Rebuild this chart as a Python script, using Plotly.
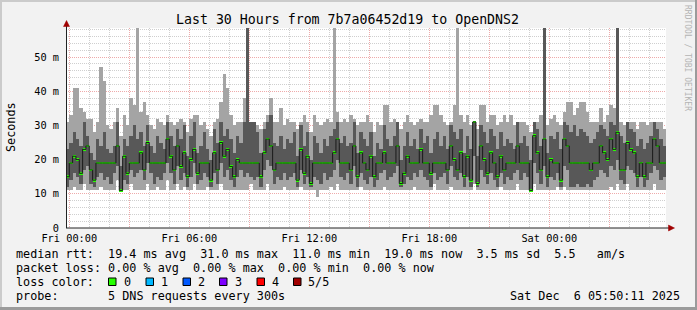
import pandas as pd
import plotly.graph_objects as go

# ---------------- data (ms), 10-minute bins starting Thu 23:50 ----------------
START = "2025-12-04 23:50:00"
median = [15,19,21,20,16,23,24,17,14,19, 19,19,19,19,19,24,11,21,16,19,
          19,19,22,17,25,19,19,19,19,19, 26,21,17,24,18,22,15,20,23,16,
          19,19,19,14,22,17,25,21,23,18, 15,20,19,19,19,19,19,19,15,22,
          26,24,17,19,19,19,19,19,19,14, 23,16,21,13,19,19,19,19,19,19,
          22,26,19,19,19,17,24,15,22,19, 17,21,15,19,19,22,19,19,19,24,
          13,16,21,19,19,19,23,19,19,16, 19,19,19,19,17,24,20,17,22,15,
          21,14,31,13,24,20,16,22,19,15, 21,17,19,19,19,24,19,19,19,11,
          27,22,17,26,15,20,19,19,14,26, 24,19,19,19,19,19,19,17,19,19,
          24,22,20,26,23,28,17,17,25,23, 22,15,19,15,19,19,26,24,19,19]
ping_min = [11,11,12,11,11,13,11,11,11,11, 12,11,11,11,11,14,11,11,11,13,
            11,11,11,11,13,11,11,12,11,11, 14,11,11,13,11,12,11,11,13,11,
            11,11,12,11,11,11,13,11,11,11, 11,11,11,11,11,13,11,11,11,11,
            13,11,11,11,11,12,11,11,11,11, 12,11,11,11,11,9,11,11,11,12,
            11,13,11,11,11,11,11,11,12,11, 11,11,11,11,11,12,11,11,11,11,
            11,11,11,11,12,11,11,11,11,11, 13,11,11,11,11,12,11,11,11,11,
            11,11,13,11,11,11,11,11,11,11, 12,11,11,11,11,13,11,11,11,11,
            13,11,11,11,11,11,11,12,11,12, 11,11,11,11,11,11,11,11,11,11,
            11,11,11,12,11,13,11,11,13,11, 11,11,11,11,11,11,13,11,11,11]
ping_low = [12,14,16,15,13,17,18,13,12,15, 16,14,15,13,16,18,11,14,13,17,
            15,16,17,14,19,16,13,15,14,16, 19,16,13,18,14,16,12,15,19,13,
            14,16,15,12,16,13,19,15,17,14, 12,15,17,15,16,15,14,15,12,17,
            20,18,13,15,14,16,14,15,16,12, 17,13,15,12,15,14,13,16,14,15,
            17,20,15,14,16,13,18,12,16,14, 13,15,12,14,16,17,14,15,16,18,
            12,13,15,14,16,15,17,15,14,12, 16,14,15,16,13,18,15,14,16,12,
            15,12,21,12,17,15,13,16,14,12, 16,13,15,14,16,17,14,16,15,11,
            19,16,13,18,12,15,14,16,12,18, 17,12,12,13,12,12,13,12,14,15,
            17,16,15,18,17,20,14,13,18,17, 16,12,15,12,14,16,18,17,14,15]
ping_high = [23,25,28,26,24,31,27,22,20,26, 24,28,23,22,24,31,18,26,24,27,
             30,26,28,24,30,24,22,27,25,23, 31,27,24,29,26,30,21,27,31,22,
             24,28,23,20,29,25,31,27,29,26, 22,27,25,31,60,31,31,28,22,29,
             31,33,25,24,27,23,26,25,28,21, 30,24,28,20,27,25,22,26,24,27,
             29,31,25,27,24,25,31,22,28,26, 24,28,21,25,23,30,26,24,27,31,
             20,24,28,24,26,23,29,25,27,22, 26,28,24,27,23,30,28,26,29,22,
             27,23,31,21,30,28,25,29,27,23, 28,24,26,25,23,31,25,27,24,20,
             31,29,24,60,22,27,26,28,23,31, 30,28,30,27,29,28,27,25,26,28,
             30,29,27,31,30,60,27,25,31,29, 28,24,26,23,25,27,31,29,26,24]
ping_max = [31,33,41,41,35,34,32,32,28,31, 47,43,30,29,31,35,27,33,30,38,
            36,60,34,37,33,30,29,32,31,30, 33,31,30,31,32,31,28,32,33,33,
            30,31,29,27,31,32,37,45,41,33, 30,31,31,38,60,31,31,30,29,31,
            33,38,31,31,35,30,32,31,31,29, 31,33,31,28,33,31,30,31,32,31,
            60,34,31,32,31,33,32,30,31,31, 33,31,28,31,30,36,36,31,32,31,
            29,31,33,31,30,31,32,31,31,33, 36,36,33,31,30,31,36,60,33,31,
            33,30,31,29,36,36,31,33,33,30, 31,33,31,33,30,31,31,31,30,28,
            31,31,33,60,30,32,33,31,30,34, 37,37,33,35,37,37,34,31,31,31,
            35,31,33,36,35,60,31,30,31,31, 31,29,31,31,30,31,31,31,31,29]

y_ticks = [0, 10, 20, 30, 40, 50]
y_labels = ["0", "10 m", "20 m", "30 m", "40 m", "50 m"]
legend_lines = [
    "median rtt:  19.4 ms avg  31.0 ms max  11.0 ms min  19.0 ms now  3.5 ms sd  5.5   am/s",
    "packet loss: 0.00 % avg  0.00 % max  0.00 % min  0.00 % now",
    "loss color:",
    "probe:       5 DNS requests every 300s",
]
loss_labels = ["0", "1", "2", "3", "4", "5/5"]
loss_colors = ["#26ff00", "#00b8ff", "#0059ff", "#7e00ff", "#ff0000", "#a10000"]

# ---------------- geometry helpers (pixels -> paper) ----------------
L, R, T, B = 66, 31, 28, 82
W_IMG, H_IMG = 697, 310
PW, PH = W_IMG - L - R, H_IMG - T - B
def px(x):
    return (x - L) / PW
def py(y):
    return (T + PH - y) / PH

MONO = "DejaVu Sans Mono"
NB = lambda s: s.replace(" ", "\u00a0")

n = len(median)
times = pd.date_range(START, periods=n, freq="10min")
centers = times + pd.Timedelta(minutes=5)
BW = 10 * 60 * 1000

fig = go.Figure()
fig.add_bar(x=centers, base=ping_min, y=[h - l for h, l in zip(ping_max, ping_min)],
            width=BW, marker=dict(color="#a4a4a4", line_width=0), hoverinfo="skip")
fig.add_bar(x=centers, base=ping_low, y=[h - l for h, l in zip(ping_high, ping_low)],
            width=BW, marker=dict(color="#585858", line_width=0), hoverinfo="skip")
edges = list(times) + [times[-1] + pd.Timedelta(minutes=10)]
fig.add_scatter(x=edges, y=median + [median[-1]], mode="lines",
                line=dict(color="#1a1a1a", width=1, shape="hv"), hoverinfo="skip")
fig.add_bar(x=centers, base=[m - 0.4 for m in median], y=[0.8] * n,
            width=BW, marker=dict(color="#26ff00", line_width=0), hoverinfo="skip")

major_x = pd.date_range("2025-12-05 00:00", "2025-12-06 03:00", freq="3h")
major_txt = [t.strftime("%a %H:%M") if i % 2 == 0 else "" for i, t in enumerate(major_x)]
minor_x = [t for t in pd.date_range("2025-12-05 00:00", "2025-12-06 05:00", freq="1h") if t.hour % 3]

GRID = "#cfcfcf"
MGRID = "#eeaaaa"
DASH = "1px,1px"

fig.update_layout(
    width=W_IMG, height=H_IMG, margin=dict(l=L, r=R, t=T, b=B),
    paper_bgcolor="#f2f2f2", plot_bgcolor="#ffffff",
    showlegend=False, barmode="overlay", bargap=0,
    xaxis=dict(type="date", range=["2025-12-04 23:50:11", "2025-12-06 05:50:11"],
               tickmode="array", tickvals=major_x, ticktext=major_txt,
               showgrid=True, gridcolor=MGRID, griddash=DASH, gridwidth=1,
               zeroline=False, showline=False, ticks="", ticklabelstandoff=3,
               tickfont=dict(family=MONO, size=10.3, color="#000"),
               minor=dict(tickmode="array", tickvals=minor_x, showgrid=True,
                          gridcolor=GRID, griddash=DASH, gridwidth=1, ticks="")),
    yaxis=dict(range=[0, 58.5], tickmode="array", tickvals=y_ticks, ticktext=y_labels,
               showgrid=True, gridcolor=MGRID, griddash=DASH, gridwidth=1,
               zeroline=False, showline=False, ticks="", ticklabelstandoff=6,
               tickfont=dict(family=MONO, size=10.3, color="#000"),
               minor=dict(tickmode="array", tickvals=[v for v in range(2, 59, 2) if v % 10],
                          showgrid=True, gridcolor=GRID, griddash=DASH, gridwidth=1, ticks="")),
)

shapes = []
# axes
shapes.append(dict(type="line", xref="paper", yref="paper", x0=px(66.5), x1=px(66.5),
                   y0=py(228), y1=py(25), line=dict(color="#222", width=1)))
shapes.append(dict(type="line", xref="paper", yref="paper", x0=px(66), x1=px(670),
                   y0=py(228), y1=py(228), line=dict(color="#222", width=1)))
# arrows
def path(pts):
    return "M " + " L ".join(f"{px(a)},{py(b)}" for a, b in pts) + " Z"
shapes.append(dict(type="path", xref="paper", yref="paper",
                   path=path([(66.5, 20.5), (63.5, 26.5), (69.5, 26.5)]),
                   fillcolor="#a00000", line=dict(color="#a00000", width=0.5)))
shapes.append(dict(type="path", xref="paper", yref="paper",
                   path=path([(674.5, 228), (668.5, 225), (668.5, 231)]),
                   fillcolor="#a00000", line=dict(color="#a00000", width=0.5)))
# frame
def rect(x0, y0, x1, y1, color, line=None):
    d = dict(type="rect", xref="paper", yref="paper", x0=px(x0), x1=px(x1),
             y0=py(y1), y1=py(y0), fillcolor=color, line=dict(width=0))
    if line:
        d["line"] = dict(color=line, width=1)
    return d
shapes.append(rect(0, 0, 697, 2, "#cbcbcb"))
shapes.append(rect(0, 0, 2, 310, "#cbcbcb"))
shapes.append(rect(0, 307, 697, 310, "#9b9b9b"))
shapes.append(rect(695, 0, 697, 310, "#9b9b9b"))
# loss colour boxes
box_x = [108.5, 146, 183, 219.5, 257, 293.5]
lab_x = [122.5, 159.5, 196.5, 233.5, 270.5, 306.5]
for bx, c in zip(box_x, loss_colors):
    shapes.append(rect(bx, 278, bx + 7.5, 285.5, c, line="#000"))
fig.update_layout(shapes=shapes)

ann = []
def text(x, y, s, size=11.78, anchor="left", color="#000", angle=0):
    ann.append(dict(xref="paper", yref="paper", x=px(x), y=py(y), text=NB(s),
                    showarrow=False, xanchor=anchor, yanchor="middle", borderpad=0,
                    textangle=angle, font=dict(family=MONO, size=size, color=color)))
text(347.5, 19, "Last 30 Hours from 7b7a06452d19 to OpenDNS2", size=13.25, anchor="center")
text(11, 127, "Seconds", anchor="center", angle=-90)
for i, line in enumerate(legend_lines):
    text(15, 254 + 14 * i, line)
for lx, lab in zip(lab_x, loss_labels):
    text(lx, 282, lab)
text(681, 296, "Sat Dec  6 05:50:11 2025", anchor="right")
text(688, 58, "RRDTOOL / TOBI OETIKER", size=8, anchor="center", color="#b4b4b4", angle=90)
fig.update_layout(annotations=ann)

fig.write_html("out.html")
